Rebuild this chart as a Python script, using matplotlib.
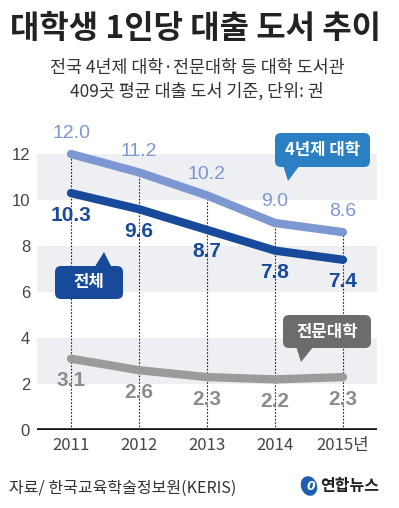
import matplotlib
matplotlib.use('Agg')
import matplotlib.pyplot as plt
from matplotlib.patches import FancyBboxPatch, Polygon, Ellipse

plt.rcParams['font.family'] = ['Noto Sans CJK KR', 'DejaVu Sans']

years = ['2011', '2012', '2013', '2014', '2015년']
univ4 = [12.0, 11.2, 10.2, 9.0, 8.6]
total = [10.3, 9.6, 8.7, 7.8, 7.4]
college = [3.1, 2.6, 2.3, 2.2, 2.3]
yticks = [0, 2, 4, 6, 8, 10, 12]
bands = [(2, 4), (6, 8), (10, 12)]

W, H = 399, 508
C_LIGHT = '#7c97d1'
C_DARK = '#184a9b'
C_GRAY = '#9b9b9b'
C_GRAYTXT = '#8c8c8c'

fig = plt.figure(figsize=(W / 100, H / 100), dpi=100)
fig.patch.set_facecolor('white')


def fx(x):
    return x / W


def fy(y):
    return 1 - y / H


# main chart area
ax_l, ax_r, ax_b, ax_t = 37, 377, 430, 119.5
ax = fig.add_axes([fx(ax_l), fy(ax_b), (ax_r - ax_l) / W, (ax_b - ax_t) / H])
ax.set_xlim(-0.5, 4.5)
ax.set_ylim(0, 13.5)
for s in ax.spines.values():
    s.set_visible(False)
ax.set_facecolor('none')

for lo, hi in bands:
    ax.axhspan(lo, hi, color='#eeeff3', lw=0, zorder=0)

x = list(range(len(years)))
for xi, v in zip(x, univ4):
    ax.vlines(xi, 0, v, colors='#222222', linestyles=(0, (1.5, 1.5)), lw=0.8, zorder=1)

ax.plot(x, college, color=C_GRAY, lw=6, solid_capstyle='round', solid_joinstyle='round', zorder=2)
ax.plot(x, univ4, color=C_LIGHT, lw=6, solid_capstyle='round', solid_joinstyle='round', zorder=2)
ax.plot(x, total, color=C_DARK, lw=6, solid_capstyle='round', solid_joinstyle='round', zorder=3)
ax.axhline(0, color='#111111', lw=2.6, zorder=4)

for xi, v in zip(x, univ4):
    ax.annotate(f'{v:.1f}', (xi, v), xytext=(0, 9), textcoords='offset points',
                ha='center', va='bottom', fontsize=14, color=C_LIGHT, family='Liberation Sans')
for xi, v in zip(x, total):
    ax.annotate(f'{v:.1f}', (xi, v), xytext=(0, -9), textcoords='offset points',
                ha='center', va='top', fontsize=15, color=C_DARK, fontweight='bold',
                family='Liberation Sans')
for xi, v in zip(x, college):
    ax.annotate(f'{v:.1f}', (xi, v), xytext=(0, -9), textcoords='offset points',
                ha='center', va='top', fontsize=15, color=C_GRAYTXT, fontweight='bold',
                family='Liberation Sans')

ax.set_yticks(yticks)
ax.set_yticklabels([str(t) for t in yticks], family='Liberation Sans', fontsize=12, color='#444444')
ax.set_xticks(x)
ax.set_xticklabels(years, fontsize=12, color='#444444')
ax.tick_params(axis='both', length=0)
ax.tick_params(axis='y', pad=5)
ax.tick_params(axis='x', pad=5)

# overlay for titles, callouts, footer (pixel coordinates)
ov = fig.add_axes([0, 0, 1, 1], zorder=10)
ov.set_xlim(0, W)
ov.set_ylim(H, 0)
ov.axis('off')

ov.text(196, 29, '대학생 1인당 대출 도서 추이', ha='center', va='center',
        fontsize=23, fontweight='bold', color='#222222')
ov.text(197, 68, '전국 4년제 대학·전문대학 등 대학 도서관', ha='center', va='center',
        fontsize=12.5, color='#333333')
ov.text(197, 91, '409곳 평균 대출 도서 기준, 단위: 권', ha='center', va='center',
        fontsize=12.5, color='#333333')


def callout(x0, y0, x1, y1, tail, color, label):
    box = FancyBboxPatch((x0, y0), x1 - x0, y1 - y0,
                         boxstyle='round,pad=0,rounding_size=6',
                         fc=color, ec='none', zorder=5)
    ov.add_patch(box)
    ov.add_patch(Polygon(tail, closed=True, fc=color, ec='none', zorder=5))
    ov.text((x0 + x1) / 2, (y0 + y1) / 2, label, ha='center', va='center',
            fontsize=12, fontweight='bold', color='white', zorder=6)


callout(275, 133, 370, 167, [(283, 165), (300, 165), (288, 181)], '#2a80c3', '4년제 대학')
callout(55, 266, 123, 299, [(94, 268), (112, 268), (104, 252)], C_DARK, '전체')
callout(283, 315, 371, 348, [(296, 346), (314, 346), (301, 362)], '#6c6c6c', '전문대학')

ov.text(9, 488, '자료/ 한국교육학술정보원(KERIS)', ha='left', va='center',
        fontsize=11.5, color='#333333', style='italic')
ov.add_patch(Ellipse((309, 486), 16, 20, angle=-20, fc='#1d5fae', ec='none'))
ov.text(311, 486, '0', ha='center', va='center', fontsize=9, color='white',
        fontweight='bold', style='italic', family='DejaVu Sans')
ov.text(320, 486, '연합뉴스', ha='left', va='center', fontsize=11.5,
        fontweight='bold', color='#222222')

fig.savefig('out.png', dpi=100)
